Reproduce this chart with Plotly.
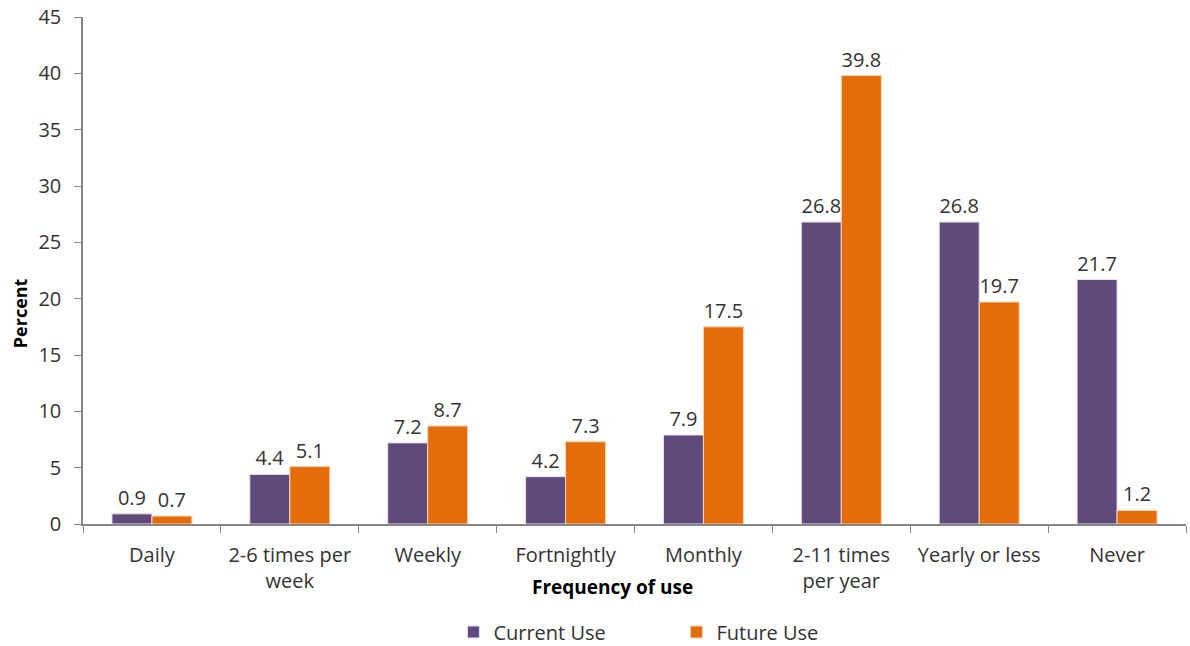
import plotly.graph_objects as go

categories = ["Daily", "2-6 times per<br>week", "Weekly", "Fortnightly", "Monthly",
              "2-11 times<br>per year", "Yearly or less", "Never"]
current_use = [0.9, 4.4, 7.2, 4.2, 7.9, 26.8, 26.8, 21.7]
future_use = [0.7, 5.1, 8.7, 7.3, 17.5, 39.8, 19.7, 1.2]

font_family = "'Open Sans', sans-serif"
txt_color = "#333333"

fig = go.Figure()
fig.add_trace(go.Bar(x=categories, y=current_use, name="Current Use",
                     marker=dict(color="#604A7B", line=dict(color="#E6E0EC", width=1)),
                     text=[f"{v:.1f}" for v in current_use], textposition="outside",
                     cliponaxis=False))
fig.add_trace(go.Bar(x=categories, y=future_use, name="Future Use",
                     marker=dict(color="#E46C0A", line=dict(color="#FBD4B4", width=1)),
                     text=[f"{v:.1f}" for v in future_use], textposition="outside",
                     cliponaxis=False))

fig.update_traces(textfont=dict(size=20, color=txt_color, family=font_family))

fig.update_layout(
    width=1190, height=646,
    margin=dict(l=83, r=4, t=17, b=122, autoexpand=False),
    plot_bgcolor="white", paper_bgcolor="white",
    barmode="group", bargap=0.42, bargroupgap=0,
    font=dict(family=font_family, size=20, color=txt_color),
    showlegend=True,
    legend=dict(orientation="h", x=0.538, xanchor="center", y=-0.213, yanchor="middle",
                font=dict(size=20), itemwidth=30, entrywidthmode="pixels", entrywidth=178),
    xaxis=dict(showline=True, linecolor="#868686", linewidth=1.5, automargin=False,
               ticks="outside", tickson="boundaries", ticklen=7, tickcolor="#868686",
               ticklabelstandoff=12, showgrid=False, tickfont=dict(size=20, color=txt_color)),
    yaxis=dict(range=[0, 45], dtick=5, showline=True, linecolor="#868686", linewidth=1.5,
               automargin=False, ticks="outside", ticklen=7, tickcolor="#868686",
               ticklabelstandoff=9, ticklabeloverflow="allow", showgrid=False, zeroline=False,
               tickfont=dict(size=20, color=txt_color)),
    annotations=[
        dict(text="<b>Frequency of use</b>", x=0.48, y=-0.124, xref="paper", yref="paper",
             xanchor="center", yanchor="middle", showarrow=False,
             font=dict(size=19, color="#000000")),
        dict(text="<b>Percent</b>", x=-0.057, y=0.416, xref="paper", yref="paper",
             xanchor="center", yanchor="middle", showarrow=False, textangle=-90,
             font=dict(size=18, color="#000000")),
    ],
)

# drop the page's default body margin so the figure fills the window
fig.write_html("out.html", config={"displayModeBar": False},
               post_script="document.body.style.margin='0';")
